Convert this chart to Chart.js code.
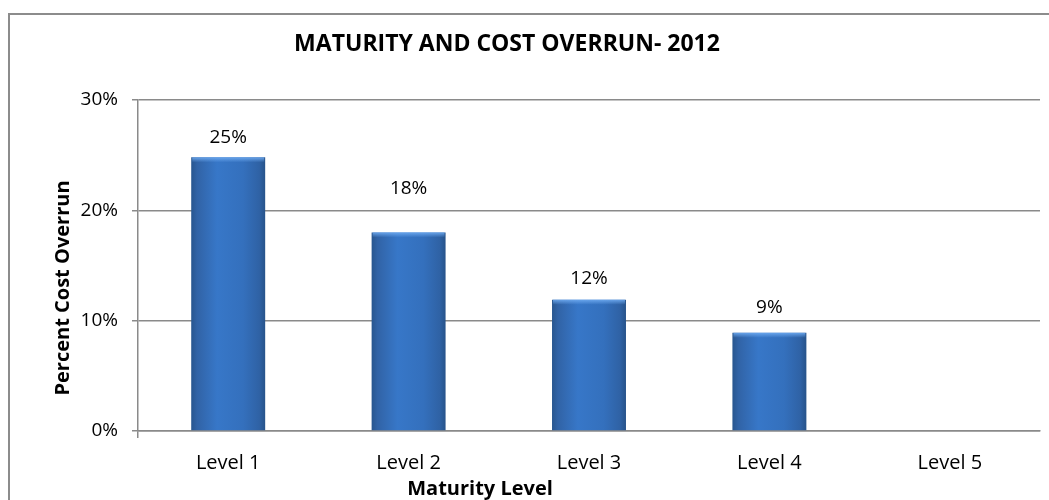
<!DOCTYPE html>
<html>
<head>
<meta charset="utf-8">
<script src="https://cdn.jsdelivr.net/npm/chart.js@4"></script>
<style>
  html, body { margin: 0; padding: 0; background: #fff; }
  #wrap { position: relative; width: 1049px; height: 500px; overflow: hidden; }
  #frame { position: absolute; left: 8px; top: 13px; width: 1100px; height: 600px; border: 2px solid #8c8c8c; }
  canvas { position: absolute; left: 0; top: 0; }
</style>
</head>
<body>
<div id="wrap">
  <div id="frame"></div>
  <canvas id="chart" width="1049" height="500"></canvas>
</div>
<script>
// data
const levels = ["Level 1", "Level 2", "Level 3", "Level 4", "Level 5"];
const overrun = [24.8, 18, 11.9, 8.9, null];
const yTicks = [0, 10, 20, 30];

const chartTitle = "MATURITY AND COST OVERRUN- 2012";
const xTitle = "Maturity Level";
const yTitle = "Percent Cost Overrun";

// how far above each bar its label sits (Excel had them moved by hand)
const labelLift = [20, 44, 21, 25, 20];

const FONT = "'Open Sans', 'Noto Sans', sans-serif";
const GRID = "#8a8a8a";

function barFill(ctx) {
  const chart = ctx.chart;
  const xs = chart.scales.x;
  if (!xs || !chart.chartArea) return "#3672c0";
  const cx = xs.getPixelForValue(ctx.dataIndex);
  const w = (xs.width / levels.length) * 0.41;
  const g = chart.ctx.createLinearGradient(cx - w / 2, 0, cx + w / 2, 0);
  g.addColorStop(0, "#28568f");
  g.addColorStop(0.08, "#3163a6");
  g.addColorStop(0.35, "#3777c8");
  g.addColorStop(0.7, "#3470bd");
  g.addColorStop(0.92, "#2f62a5");
  g.addColorStop(1, "#27538a");
  return g;
}

// labels, bevel and the titles
const extras = {
  id: "extras",
  afterDatasetsDraw(chart) {
    const ctx = chart.ctx;
    const meta = chart.getDatasetMeta(0);
    ctx.save();
    meta.data.forEach((bar, i) => {
      const v = overrun[i];
      if (v === null) return;
      const left = bar.x - bar.width / 2;
      // light bevel at the top of each bar
      const g = ctx.createLinearGradient(0, bar.y, 0, bar.y + 5);
      g.addColorStop(0, "rgba(110,170,240,0.9)");
      g.addColorStop(1, "rgba(110,170,240,0)");
      ctx.fillStyle = g;
      ctx.fillRect(left + 1, bar.y, bar.width - 2, 5);

      ctx.fillStyle = "#000";
      ctx.font = "19px " + FONT;
      ctx.textAlign = "center";
      ctx.textBaseline = "middle";
      ctx.fillText(Math.round(v) + "%", bar.x, bar.y - labelLift[i]);
    });
    ctx.restore();
  },
  afterDraw(chart) {
    const ctx = chart.ctx;
    ctx.save();
    ctx.fillStyle = "#000";
    ctx.textAlign = "center";
    ctx.textBaseline = "middle";

    ctx.font = "bold 23px " + FONT;
    ctx.fillText(chartTitle, 507, 44);

    ctx.font = "bold 20px " + FONT;
    ctx.fillText(xTitle, 480, 489);

    ctx.translate(63, 288);
    ctx.rotate(-Math.PI / 2);
    ctx.fillText(yTitle, 0, 0);
    ctx.restore();
  },
};

new Chart(document.getElementById("chart"), {
  type: "bar",
  data: {
    labels: levels,
    datasets: [
      {
        data: overrun,
        backgroundColor: barFill,
        borderWidth: 0,
        categoryPercentage: 1,
        barPercentage: 0.41,
      },
    ],
  },
  options: {
    responsive: false,
    animation: false,
    events: [],
    layout: { padding: { top: 100, right: 9, bottom: 0, left: 0 } },
    plugins: {
      legend: { display: false },
      title: { display: false },
      tooltip: { enabled: false },
    },
    scales: {
      x: {
        afterFit: (s) => { s.height = 69; },
        grid: {
          offset: true,
          drawOnChartArea: false,
          drawTicks: true,
          tickLength: 7,
          lineWidth: 1.5,
          color: (c) => (c.index === 0 || c.index === levels.length ? GRID : "rgba(0,0,0,0)"),
        },
        border: { display: true, color: GRID, width: 1.5 },
        ticks: { color: "#000", font: { family: FONT, size: 20 }, padding: 13 },
      },
      y: {
        min: 0,
        max: 30,
        afterFit: (s) => { s.width = 138; },
        afterBuildTicks: (s) => { s.ticks = yTicks.map((v) => ({ value: v })); },
        grid: { color: GRID, lineWidth: 1.5, tickLength: 6, drawTicks: true },
        border: { display: true, color: GRID, width: 1.5 },
        ticks: {
          color: "#000",
          font: { family: FONT, size: 19 },
          padding: 14,
          callback: (v) => v + "%",
        },
      },
    },
  },
  plugins: [extras],
});
</script>
</body>
</html>
